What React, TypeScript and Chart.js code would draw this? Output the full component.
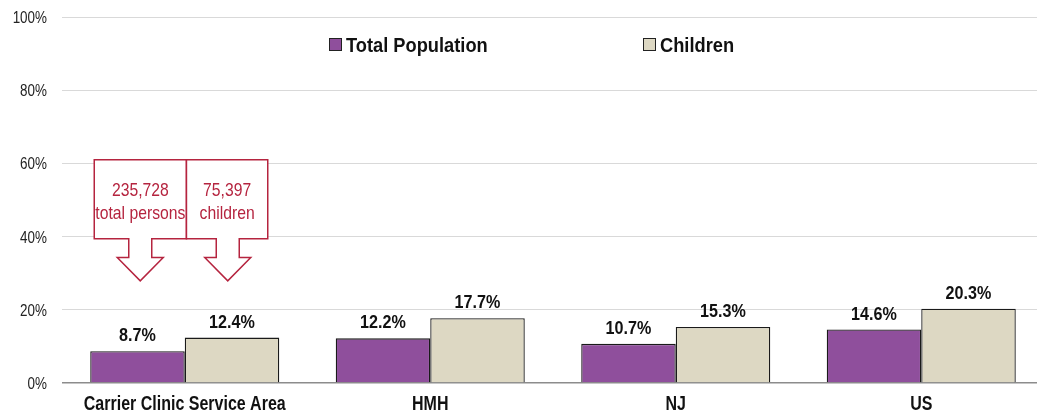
import React, { useEffect, useRef } from "react";
import { Chart, registerables } from "chart.js";

Chart.register(...registerables);

const categories = ["Carrier Clinic Service Area", "HMH", "NJ", "US"];
const seriesNames = ["Total Population", "Children"];
const totalPopulation = [8.7, 12.2, 10.7, 14.6];
const children = [12.4, 17.7, 15.3, 20.3];
const yTickStep = 20;
const yMax = 100;
const calloutTotal = ["235,728", "total persons"];
const calloutChildren = ["75,397", "children"];

const COLORS = ["#8F4F9C", "#DDD8C3"];
const RED = "#B5243F";
const FONT = '"Liberation Sans", Arial, sans-serif';

// draw horizontally condensed text (emulating a narrow typeface)
function narrowText(ctx: any, text: string, x: number, y: number, font: string, sx: number, align: string, baseline: string, color: string) {
  ctx.save();
  ctx.font = font;
  ctx.fillStyle = color;
  ctx.textAlign = align;
  ctx.textBaseline = baseline;
  ctx.translate(x, y);
  ctx.scale(sx, 1);
  ctx.fillText(text, 0, 0);
  ctx.restore();
}

const axisTextPlugin = {
  id: "axisText",
  afterDraw(chart: any) {
    const ctx = chart.ctx;
    const xs = chart.scales.x;
    const ys = chart.scales.y;
    ys.ticks.forEach((t: any) => {
      const py = ys.getPixelForValue(t.value);
      narrowText(ctx, t.value + "%", xs.left - 15, py + 6, `17px ${FONT}`, 0.79, "right", "alphabetic", "#222");
    });
    categories.forEach((c, i) => {
      const px = xs.getPixelForValue(i);
      narrowText(ctx, c, px, ys.bottom + 26.5, `bold 20px ${FONT}`, 0.8, "center", "alphabetic", "#111");
    });
  },
};

const legendPlugin = {
  id: "customLegend",
  afterDraw(chart: any) {
    const ctx = chart.ctx;
    const items = [
      { x: 329, label: seriesNames[0], color: COLORS[0] },
      { x: 643, label: seriesNames[1], color: COLORS[1] },
    ];
    ctx.save();
    for (const it of items) {
      ctx.fillStyle = it.color;
      ctx.fillRect(it.x, 38, 13, 13);
      ctx.strokeStyle = "#222";
      ctx.lineWidth = 1;
      ctx.strokeRect(it.x + 0.5, 38.5, 12, 12);
      narrowText(ctx, it.label, it.x + 17, 52, `bold 21px ${FONT}`, 0.87, "left", "alphabetic", "#111");
    }
    ctx.restore();
  },
};

const labelPlugin = {
  id: "valueLabels",
  afterDatasetsDraw(chart: any) {
    const ctx = chart.ctx;
    chart.data.datasets.forEach((ds: any, di: number) => {
      const meta = chart.getDatasetMeta(di);
      meta.data.forEach((bar: any, i: number) => {
        narrowText(ctx, ds.data[i].toFixed(1) + "%", bar.x, bar.y - 10, `bold 19px ${FONT}`, 0.85, "center", "alphabetic", "#111");
      });
    });
  },
};

const calloutPlugin = {
  id: "callouts",
  afterDraw(chart: any) {
    const ctx = chart.ctx;
    const xs = chart.scales.x;
    const ys = chart.scales.y;
    const cx = xs.getPixelForValue(0);
    const top = ys.getPixelForValue(61);
    const bottom = ys.getPixelForValue(39.4);
    const headTop = ys.getPixelForValue(34.3);
    const tip = ys.getPixelForValue(27.9);
    const boxes = [
      { l: cx - 90.5, r: cx + 1.7, a: cx - 44.5, lines: calloutTotal },
      { l: cx + 1.7, r: cx + 83, a: cx + 43, lines: calloutChildren },
    ];
    ctx.save();
    for (const b of boxes) {
      const sw = 11.5;
      const hw = 23;
      ctx.beginPath();
      ctx.moveTo(b.l, top);
      ctx.lineTo(b.r, top);
      ctx.lineTo(b.r, bottom);
      ctx.lineTo(b.a + sw, bottom);
      ctx.lineTo(b.a + sw, headTop);
      ctx.lineTo(b.a + hw, headTop);
      ctx.lineTo(b.a, tip);
      ctx.lineTo(b.a - hw, headTop);
      ctx.lineTo(b.a - sw, headTop);
      ctx.lineTo(b.a - sw, bottom);
      ctx.lineTo(b.l, bottom);
      ctx.closePath();
      ctx.fillStyle = "#fff";
      ctx.fill();
      ctx.strokeStyle = RED;
      ctx.lineWidth = 1.5;
      ctx.stroke();
    }
    ctx.restore();
    for (const b of boxes) {
      const mx = (b.l + b.r) / 2;
      narrowText(ctx, b.lines[0], mx, top + 36, `18.5px ${FONT}`, 0.85, "center", "alphabetic", RED);
      narrowText(ctx, b.lines[1], mx, top + 59, `18.5px ${FONT}`, 0.85, "center", "alphabetic", RED);
    }
  },
};

export default function App() {
  const ref = useRef<HTMLCanvasElement | null>(null);
  useEffect(() => {
    if (!ref.current) return;
    const chart = new Chart(ref.current, {
      type: "bar",
      data: {
        labels: categories,
        datasets: [
          {
            label: seriesNames[0],
            data: totalPopulation,
            backgroundColor: COLORS[0],
            borderColor: "#1a1a1a",
            borderWidth: 1.3,
            categoryPercentage: 0.77,
            barPercentage: 1,
          },
          {
            label: seriesNames[1],
            data: children,
            backgroundColor: COLORS[1],
            borderColor: "#1a1a1a",
            borderWidth: 1.3,
            categoryPercentage: 0.77,
            barPercentage: 1,
          },
        ],
      },
      options: {
        animation: false,
        responsive: false,
        maintainAspectRatio: false,
        devicePixelRatio: 1,
        layout: { padding: { top: 17, right: 0, left: 0, bottom: 0 } },
        plugins: {
          legend: { display: false },
          tooltip: { enabled: false },
          title: { display: false },
        },
        scales: {
          x: {
            grid: { display: false, drawTicks: false },
            border: { display: false },
            ticks: { display: false },
            afterFit(scale: any) {
              scale.height = 32;
            },
          },
          y: {
            min: 0,
            max: yMax,
            grid: {
              drawTicks: false,
              color: (c: any) => (c.tick && c.tick.value === 0 ? "#8c8c8c" : "#d9d9d9"),
              lineWidth: (c: any) => (c.tick && c.tick.value === 0 ? 1.5 : 1),
            },
            border: { display: false },
            ticks: { display: false, stepSize: yTickStep },
            afterFit(scale: any) {
              scale.width = 62;
            },
          },
        },
      },
      plugins: [labelPlugin, calloutPlugin, legendPlugin, axisTextPlugin],
    });
    return () => chart.destroy();
  }, []);
  return (
    <div style={{ position: "fixed", left: 0, top: 0, width: 1037, height: 415, overflow: "hidden", background: "#fff" }}>
      <canvas ref={ref} width={1044} height={415} style={{ display: "block", width: 1044, height: 415 }} />
    </div>
  );
}
